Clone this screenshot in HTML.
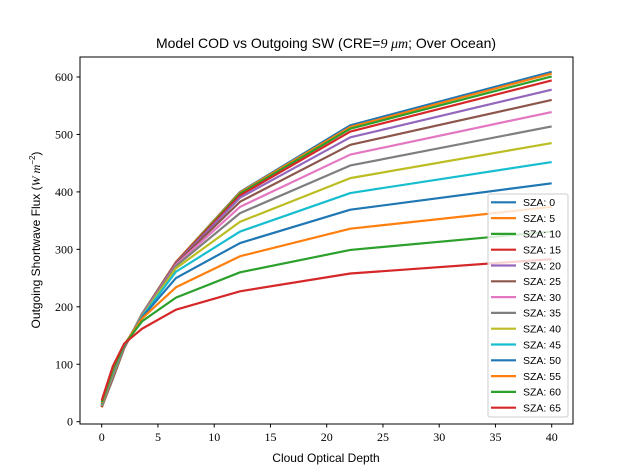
<!DOCTYPE html>
<html><head><meta charset="utf-8"><style>
body{margin:0;background:#fff}
svg{display:block;font-family:"Liberation Serif",serif}
.s{font-family:"Liberation Sans",sans-serif}
</style></head><body>
<svg id="c" width="637" height="476">
<text class="s" x="326" y="48" font-size="14" text-anchor="middle">Model COD vs Outgoing SW (CRE=<tspan font-family="Liberation Serif" font-style="italic">9 μm</tspan>; Over Ocean)</text>
<text class="s" x="326" y="462" font-size="12" text-anchor="middle">Cloud Optical Depth</text>
<text class="s" transform="translate(40,240) rotate(-90)" font-size="12" text-anchor="middle">Outgoing Shortwave Flux (<tspan font-family="Liberation Serif" font-style="italic">W m</tspan><tspan font-size="8" dy="-5">−2</tspan><tspan dy="5">)</tspan></text>
<g id="ticks"></g><g id="lines"></g>
<rect x="80" y="57" width="493" height="367" fill="none" stroke="#000" stroke-width="1"/>
<g id="legend"></g>
</svg>
<script>
const xs=[0,1,2,3.6,6.6,12.3,22.1,40];
const szaLabels=[0,5,10,15,20,25,30,35,40,45,50,55,60,65];
const colors=["#1f77b4","#ff7f0e","#2ca02c","#d62728","#9467bd","#8c564b","#e377c2","#7f7f7f","#bcbd22","#17becf","#1f77b4","#ff7f0e","#2ca02c","#d62728"];
const s0=[25,75,128,188,278,400,516,609];
const s5=[25,76,128,188,278,399,513,606];
const s10=[26,77,129,188,277,397,510,601];
const s15=[26,78,129,187,277,394,505,594];
const s20=[27,79,130,187,276,390,495,578];
const s25=[27,80,130,186,275,383,482,560];
const s30=[28,81,131,186,273,374,465,539];
const s35=[28,82,131,185,271,363,446,514];
const s40=[29,84,132,184,267,348,424,485];
const s45=[30,86,132,183,261,331,398,452];
const s50=[31,88,133,182,250,311,369,415];
const s55=[32,90,134,180,234,288,336,374];
const s60=[34,92,134,175,216,260,299,331];
const s65=[37,97,136,162,195,227,258,283];
const series=[s0,s5,s10,s15,s20,s25,s30,s35,s40,s45,s50,s55,s60,s65];
const xTicks=[0,5,10,15,20,25,30,35,40];
const yTicks=[0,100,200,300,400,500,600];
const X=v=>101.7+v*12.5*0.9;
const Y=v=>421.7-v*0.5745;
const NS="http://www.w3.org/2000/svg";
function mk(t,a,p){const e=document.createElementNS(NS,t);for(const k in a)e.setAttribute(k,a[k]);p.appendChild(e);return e;}
const tg=document.getElementById('ticks');
xTicks.forEach(v=>{
 const l=mk('line',{x1:X(v),x2:X(v),y1:424,y2:427.5,stroke:'#000'},tg);
 
 
 const t=mk('text',{x:X(v),y:441,'font-size':12,'text-anchor':'middle'},tg);t.textContent=v;
 
 
});
yTicks.forEach(v=>{
 const l=mk('line',{x1:76.5,x2:80,y1:Y(v),y2:Y(v),stroke:'#000'},tg);
 
 
 const t=mk('text',{x:73,y:Y(v)+4,'font-size':12,'text-anchor':'end'},tg);t.textContent=v;
 
 
});
const lg=document.getElementById('lines');
series.forEach((s,i)=>{
 const p=mk('polyline',{points:s.map((v,j)=>X(xs[j])+','+Y(v)).join(' '),fill:'none',stroke:colors[i],'stroke-width':2.2,'stroke-linejoin':'round'},lg);
 
 
});
const L=document.getElementById('legend');
mk('rect',{x:488,y:194,width:80,height:223,rx:2,fill:'#fff','fill-opacity':0.8,stroke:'#ccc'},L);
szaLabels.forEach((z,i)=>{
 const y=202.3+i*15.8;
 const l=mk('line',{x1:491,x2:516,y1:y,y2:y,stroke:colors[i],'stroke-width':2.2},L);
 
 
 const t=mk('text',{x:523,y:y+3.8,'font-size':10.5,class:'s'},L);t.textContent='SZA: '+z;
 
 
});
</script>
</body></html>
